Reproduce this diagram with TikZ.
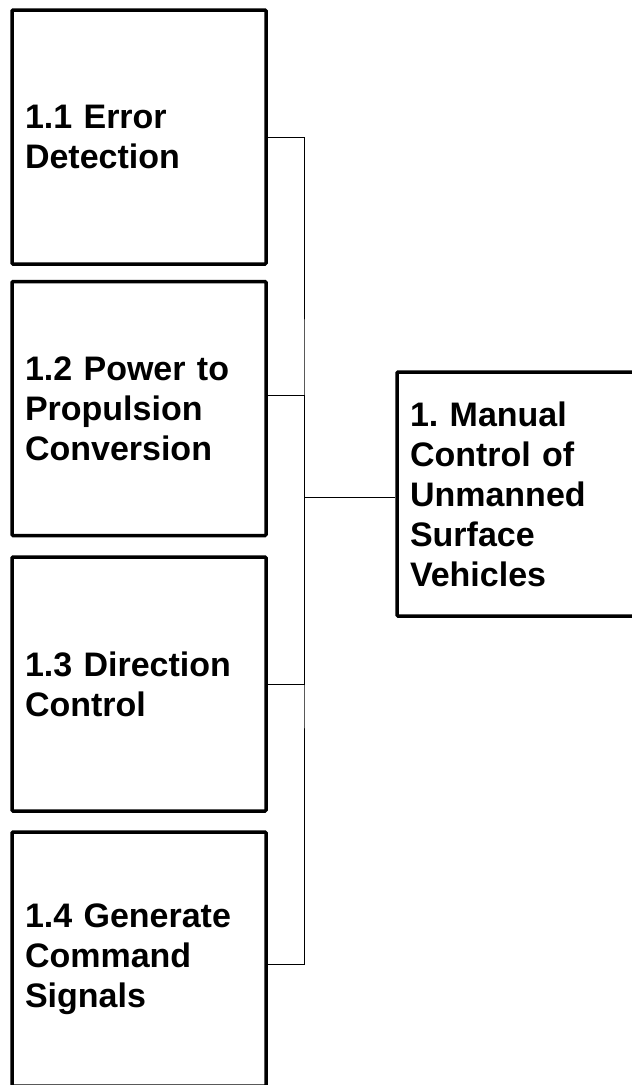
\documentclass[tikz,border=0pt]{standalone}
\usepackage{fontspec}
\setmainfont{Liberation Sans}
\frenchspacing
\usetikzlibrary{positioning}

\begin{document}
\begin{tikzpicture}[
  x=1pt, y=-1pt,
  font=\fontsize{34}{40}\selectfont\bfseries,
  box/.style={draw=black, line width=3.5pt, rounded corners=1pt, fill=white,
              align=left, inner xsep=13pt, inner ysep=0pt},
  sub/.style={box, text width=228pt, minimum height=254pt},
  main/.style={box, text width=218pt, minimum height=244pt},
  link/.style={draw=black, line width=0.9pt},
]

% Frame
\useasboundingbox (0,0) rectangle (632,1085);

% Sub-functions
\node[sub] (err) at (139,137) {1.1 Error\\Detection};
\node[sub] (pow) at (139,408.5) {1.2 Power to\\Propulsion\\Conversion};
\node[sub] (dir) at (139,684) {1.3 Direction\\Control};
\node[sub] (gen) at (139,959) {1.4 Generate\\Command\\Signals};

% Main function
\node[main] (usv) at (519,494) {1. Manual\\Control of\\Unmanned\\Surface\\Vehicles};

% Connectors
\coordinate (bus) at (304,497);
\draw[link] (err.east) -| (bus) |- ([yshift=-5pt]gen.east);
\draw[link] ([yshift=13pt]pow.east) -| (bus);
\draw[link] (dir.east) -| (bus);
\draw[link] (bus) -- (bus -| usv.west);

\end{tikzpicture}
\end{document}
